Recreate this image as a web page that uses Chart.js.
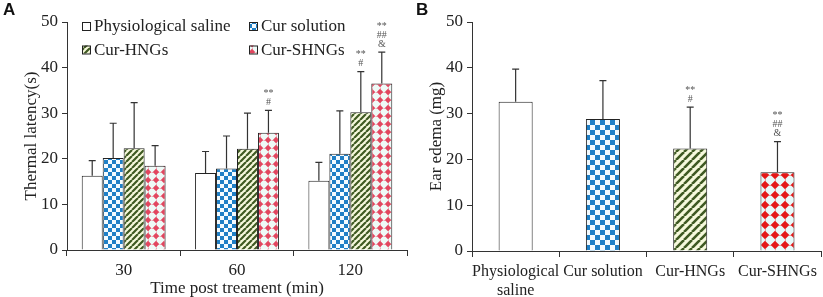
<!DOCTYPE html>
<html><head><meta charset="utf-8">
<script src="https://cdn.jsdelivr.net/npm/chart.js@4/dist/chart.umd.min.js"></script>
<style>
html,body{margin:0;padding:0;background:#fff;}
#wrap{position:relative;width:823px;height:297px;overflow:hidden;background:#fff;}
#cA{position:absolute;left:0;top:0;}
#cB{position:absolute;left:420px;top:0;}
.lab{position:absolute;font:bold 17px "Liberation Sans",Arial,sans-serif;color:#111;line-height:17px;}
</style></head><body>
<div id="wrap">
<canvas id="cA" width="420" height="297"></canvas>
<canvas id="cB" width="403" height="297"></canvas>
<div class="lab" style="left:3px;top:1px">A</div>
<div class="lab" style="left:416px;top:1px">B</div>
</div>
<script>
// ---------- data ----------
const timeLabels = ['30', '60', '120'];
const seriesNames = ['Physiological saline', 'Cur solution', 'Cur-HNGs', 'Cur-SHNGs'];
const salineA = [16.3, 16.9, 15.2];
const salineSdA = [3.3, 4.7, 4.0];
const curSolA = [20.2, 17.9, 21.1];
const curSolSdA = [7.6, 7.1, 9.4];
const hngsA = [22.3, 22.2, 30.2];
const hngsSdA = [10.0, 7.8, 8.9];
const shngsA = [18.5, 25.7, 36.5];
const shngsSdA = [4.4, 4.9, 6.9];
const sigSalineA = [[], [], []];
const sigCurSolA = [[], [], []];
const sigHngsA = [[], [], ['**', '#']];
const sigShngsA = [[], ['**', '#'], ['**', '##', '&']];

const groupsB = [['Physiological', 'saline'], 'Cur solution', 'Cur-HNGs', 'Cur-SHNGs'];
const edemaB = [32.6, 28.8, 22.4, 17.2];
const edemaSdB = [7.1, 8.4, 9.0, 6.7];
const sigB = [[], [], ['**', '#'], ['**', '##', '&']];

const yTickValues = [0, 10, 20, 30, 40, 50];
const yTitleA = 'Thermal latency(s)';
const xTitleA = 'Time post treament (min)';
const yTitleB = 'Ear edema (mg)';

// ---------- patterns ----------
function mk(w, h) { const c = document.createElement('canvas'); c.width = w; c.height = h; return c; }
function checker(ctx, cell, fg, bg) {
  const c = mk(cell * 2, cell * 2), x = c.getContext('2d');
  x.fillStyle = bg; x.fillRect(0, 0, cell * 2, cell * 2);
  x.fillStyle = fg; x.fillRect(0, 0, cell, cell); x.fillRect(cell, cell, cell, cell);
  return ctx.createPattern(c, 'repeat');
}
function stripes(ctx, p, fg, bg, lw) {
  const c = mk(p, p), x = c.getContext('2d');
  x.fillStyle = bg; x.fillRect(0, 0, p, p);
  x.strokeStyle = fg; x.lineWidth = lw;
  x.beginPath();
  for (const k of [-p, 0, p]) { x.moveTo(k, p); x.lineTo(k + p, 0); }
  x.stroke();
  return ctx.createPattern(c, 'repeat');
}
function diamonds(ctx, p, r, fg, bg, grid) {
  const c = mk(p, p), x = c.getContext('2d');
  x.fillStyle = bg; x.fillRect(0, 0, p, p);
  x.strokeStyle = grid; x.lineWidth = 1; x.setLineDash([1.5, 1.5]);
  x.beginPath(); x.moveTo(p / 2 + 0.5, 0); x.lineTo(p / 2 + 0.5, p); x.moveTo(0, p / 2 + 0.5); x.lineTo(p, p / 2 + 0.5); x.stroke();
  x.fillStyle = fg; x.beginPath();
  x.moveTo(p / 2, p / 2 - r); x.lineTo(p / 2 + r, p / 2); x.lineTo(p / 2, p / 2 + r); x.lineTo(p / 2 - r, p / 2); x.closePath(); x.fill();
  return ctx.createPattern(c, 'repeat');
}

const ctxA = document.getElementById('cA').getContext('2d');
const ctxB = document.getElementById('cB').getContext('2d');
const patA = ['#ffffff',
  checker(ctxA, 4, '#1f7fc6', '#f4fbff'),
  stripes(ctxA, 6, '#3f5a22', '#f6f9dc', 2.2),
  diamonds(ctxA, 8, 3.2, '#e2465f', '#eefaf7', '#f0a6b4')];
const patB = ['#ffffff',
  checker(ctxB, 5, '#1f7fc6', '#f4fbff'),
  stripes(ctxB, 8, '#3f5a22', '#f6f9dc', 2.6),
  diamonds(ctxB, 10, 4.3, '#e41818', '#e6fafa', '#f2a0a0')];

// ---------- plugins ----------
const serif = 'Liberation Serif';
const errPlugin = {
  id: 'err',
  afterDatasetsDraw(chart) {
    const ctx = chart.ctx, ys = chart.scales.y;
    chart.data.datasets.forEach((ds, di) => {
      const meta = chart.getDatasetMeta(di);
      meta.data.forEach((bar, i) => {
        const top = ys.getPixelForValue(ds.data[i] + ds.sd[i]);
        ctx.save();
        ctx.strokeStyle = '#333'; ctx.lineWidth = 1.2;
        ctx.beginPath();
        ctx.moveTo(bar.x, bar.y); ctx.lineTo(bar.x, top);
        ctx.moveTo(bar.x - 3.5, top); ctx.lineTo(bar.x + 3.5, top);
        ctx.stroke();
        const sig = ds.sig && ds.sig[i];
        if (sig && sig.length) {
          ctx.font = '10px "' + serif + '"'; ctx.fillStyle = '#555';
          ctx.textAlign = 'center'; ctx.textBaseline = 'middle';
          for (let k = 0; k < sig.length; k++) {
            const fromBottom = sig.length - 1 - k;
            ctx.fillText(sig[k], bar.x, top - 8 - fromBottom * 9);
          }
        }
        ctx.restore();
      });
    });
  }
};
const legendPlugin = {
  id: 'leg',
  afterDraw(chart) {
    const ctx = chart.ctx;
    const cols = [82, 249], rows = [26, 49.5];
    ctx.save();
    ctx.font = '17px "' + serif + '"'; ctx.fillStyle = '#222';
    ctx.textBaseline = 'middle'; ctx.textAlign = 'left';
    seriesNames.forEach((n, i) => {
      const x = cols[i % 2], y = rows[Math.floor(i / 2)];
      ctx.fillStyle = patA[i]; ctx.fillRect(x, y - 4, 8, 8);
      ctx.strokeStyle = '#222'; ctx.lineWidth = 1; ctx.strokeRect(x + 0.5, y - 3.5, 8, 8);
      ctx.fillStyle = '#222'; ctx.fillText(n, x + 12, y + 1);
    });
    ctx.restore();
  }
};

function axisX(titleText, height, pad, fsize) {
  return {
    grid: { display: true, drawOnChartArea: false, drawTicks: true, tickLength: 6, color: '#333', offset: true },
    border: { display: true, color: '#333', width: 1 },
    ticks: { font: { family: serif, size: fsize, lineHeight: 1.15 }, color: '#222', padding: pad, maxRotation: 0, autoSkip: false },
    title: { display: !!titleText, text: titleText, font: { family: serif, size: 17 }, color: '#222', padding: { top: 0, bottom: -2 } },
    afterFit(s) { s.height = height; }
  };
}
function axisY(titleText, width, tpad) {
  return {
    min: 0, max: 50,
    afterBuildTicks(s) { s.ticks = yTickValues.map(v => ({ value: v })); },
    grid: { display: true, drawOnChartArea: false, drawTicks: true, tickLength: 5, color: '#333' },
    border: { display: true, color: '#333', width: 1 },
    ticks: { font: { family: serif, size: 17 }, color: '#222', padding: 4 },
    title: { display: true, text: titleText, font: { family: serif, size: 17 }, color: '#222', padding: { top: tpad, bottom: 0 } },
    afterFit(s) { s.width = width; }
  };
}

function dsA(label, data, sd, sig, i) {
  return { label, data, sd, sig, backgroundColor: patA[i], borderColor: '#222', borderWidth: 1,
    categoryPercentage: 0.74, barPercentage: 1.0 };
}

new Chart(ctxA, {
  type: 'bar',
  data: {
    labels: timeLabels,
    datasets: [
      dsA(seriesNames[0], salineA, salineSdA, sigSalineA, 0),
      dsA(seriesNames[1], curSolA, curSolSdA, sigCurSolA, 1),
      dsA(seriesNames[2], hngsA, hngsSdA, sigHngsA, 2),
      dsA(seriesNames[3], shngsA, shngsSdA, sigShngsA, 3)
    ]
  },
  options: {
    responsive: false, animation: false,
    layout: { padding: { left: 0, right: 13, top: 22, bottom: 0 } },
    plugins: { legend: { display: false }, tooltip: { enabled: false } },
    scales: { x: axisX(xTitleA, 47, 5, 17), y: axisY(yTitleA, 67, 21) }
  },
  plugins: [errPlugin, legendPlugin]
});

new Chart(ctxB, {
  type: 'bar',
  data: {
    labels: groupsB,
    datasets: [{ label: yTitleB, data: edemaB, sd: edemaSdB, sig: sigB,
      backgroundColor: patB, borderColor: '#222', borderWidth: 1,
      categoryPercentage: 1.0, barPercentage: 0.39 }]
  },
  options: {
    responsive: false, animation: false,
    layout: { padding: { left: 0, right: 1, top: 22, bottom: 0 } },
    plugins: { legend: { display: false }, tooltip: { enabled: false } },
    scales: { x: axisX('', 46, 6, 16), y: axisY(yTitleB, 52, 6) }
  },
  plugins: [errPlugin]
});
</script>
</body></html>
